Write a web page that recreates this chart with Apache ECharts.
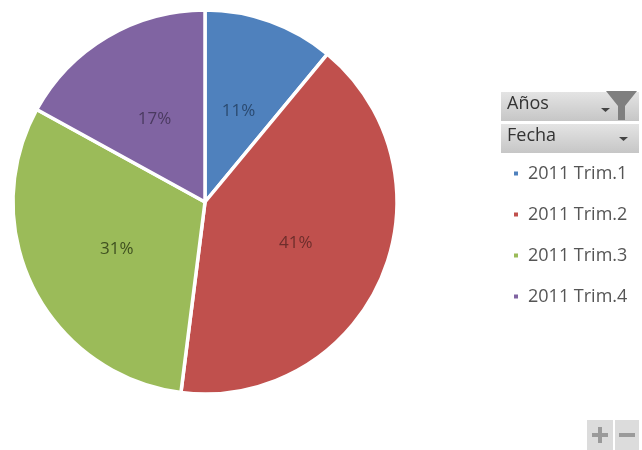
<!DOCTYPE html>
<html>
<head>
<meta charset="utf-8">
<style>html,body{margin:0;padding:0;background:#fff}#chart{width:642px;height:450px}</style>
<script src="https://cdn.jsdelivr.net/npm/echarts@6/dist/echarts.min.js"></script>
</head>
<body>
<div id="chart"></div>
<script>
// Quarterly share of the year, as percentages
const categories = ['2011 Trim.1', '2011 Trim.2', '2011 Trim.3', '2011 Trim.4'];
const shares = [11, 41, 31, 17];
const sliceColors = ['#4F81BD', '#C0504D', '#9BBB59', '#8064A2'];
const labelColors = ['#2b4a70', '#6e2e2c', '#3f5020', '#4a3a60'];
const filterTitles = ['Años', 'Fecha'];

const FONT = '"Open Sans", sans-serif';
const buttonFill = {
  type: 'linear', x: 0, y: 0, x2: 0, y2: 1,
  colorStops: [{ offset: 0, color: '#e4e4e4' }, { offset: 1, color: '#c6c6c6' }]
};

// Field buttons beside the pie, plus the zoom controls in the corner
function fieldButton(title, top) {
  return [
    { type: 'rect', shape: { x: 501, y: top, width: 138, height: 29 }, style: { fill: buttonFill } },
    { type: 'text', x: 507, y: top + 3, style: { text: title, font: '18px ' + FONT, fill: '#333' } }
  ];
}
function arrow(x, y) {
  return { type: 'polygon', shape: { points: [[x, y], [x + 9, y], [x + 4.5, y + 4]] }, style: { fill: '#444' } };
}
const funnel = {
  type: 'polygon',
  shape: { points: [[606, 91], [637, 91], [625, 106], [625, 120], [618, 120], [618, 106]] },
  style: { fill: '#7f7f7f' }
};
const zoomButtons = [
  { type: 'rect', shape: { x: 587, y: 420, width: 26, height: 30 }, style: { fill: '#dcdcdc' } },
  { type: 'rect', shape: { x: 615, y: 420, width: 24, height: 30 }, style: { fill: '#dcdcdc' } },
  { type: 'rect', shape: { x: 592, y: 433, width: 16, height: 4 }, style: { fill: '#9a9a9a' } },
  { type: 'rect', shape: { x: 598, y: 427, width: 4, height: 16 }, style: { fill: '#9a9a9a' } },
  { type: 'rect', shape: { x: 619, y: 433, width: 16, height: 4 }, style: { fill: '#9a9a9a' } }
];

const chart = echarts.init(document.getElementById('chart'));
chart.setOption({
  animation: false,
  backgroundColor: '#fff',
  color: sliceColors,
  legend: {
    orient: 'vertical',
    left: 512,
    top: 162,
    padding: 0,
    itemWidth: 6,
    itemHeight: 6,
    itemGap: 18,
    icon: 'rect',
    data: categories,
    textStyle: {
      fontFamily: FONT,
      fontSize: 18,
      color: '#555',
      lineHeight: 23,
      padding: [0, 0, 0, 4]
    }
  },
  series: [{
    type: 'pie',
    center: [205, 202],
    radius: [0, 192],
    startAngle: 90,
    clockwise: true,
    silent: true,
    itemStyle: { borderColor: '#fff', borderWidth: 3.5 },
    label: {
      position: 'inner',
      formatter: '{c}%',
      fontFamily: FONT,
      fontSize: 17,
      offset: [0, 2]
    },
    labelLine: { show: false },
    data: categories.map((name, i) => ({
      name,
      value: shares[i],
      label: { color: labelColors[i] }
    }))
  }],
  graphic: [
    ...fieldButton(filterTitles[0], 92),
    ...fieldButton(filterTitles[1], 124),
    funnel,
    arrow(601, 108),
    arrow(619, 137),
    ...zoomButtons
  ]
});
</script>
</body>
</html>
